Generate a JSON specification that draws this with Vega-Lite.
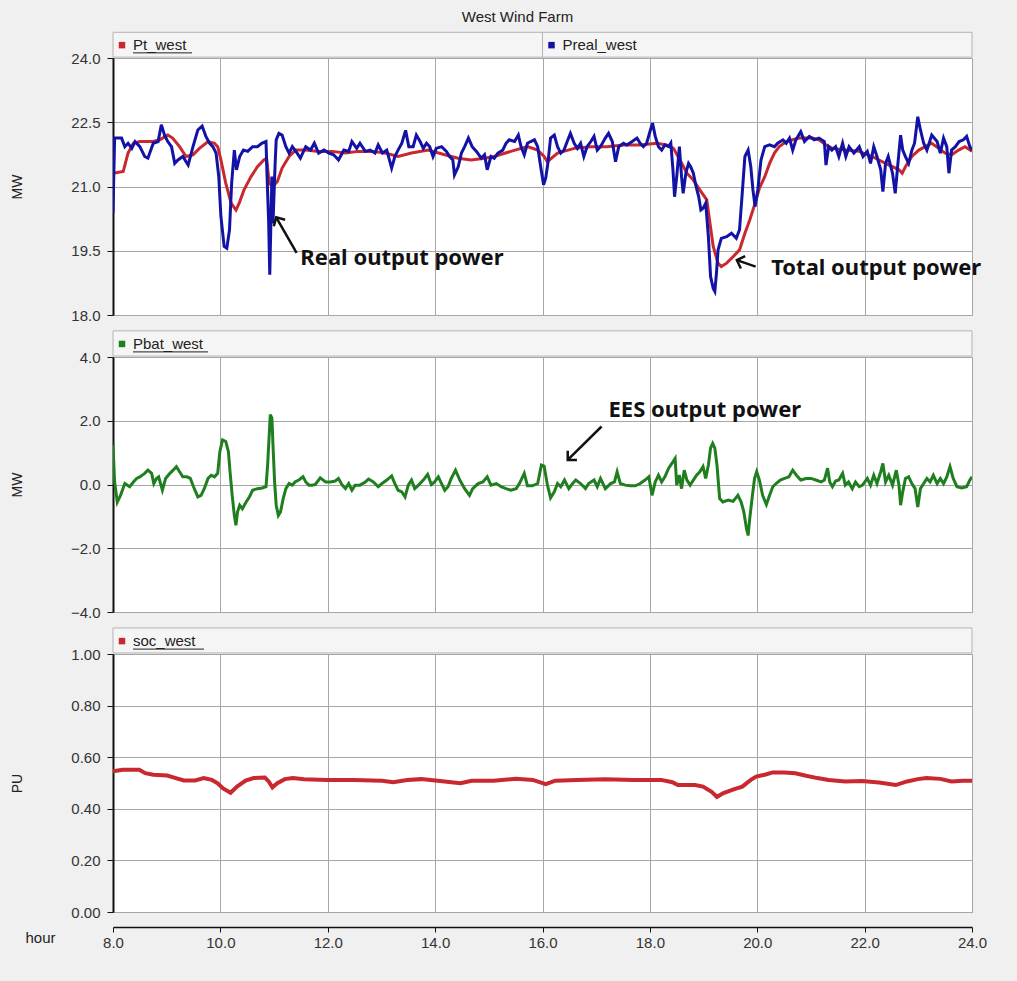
{
  "$schema": "https://vega.github.io/schema/vega-lite/v6.json",
  "background": "#f0f0f0",
  "padding": {"left": 9, "top": 10, "right": 45, "bottom": 31},
  "title": {"text": "West Wind Farm", "font": "Liberation Sans", "fontSize": 15, "fontWeight": "normal", "color": "#222222", "anchor": "middle", "offset": 6, "dx": -25, "frame": "group"},
  "config": {
    "font": "Liberation Sans",
    "view": {"fill": "white", "stroke": "#a6a6a6", "strokeWidth": 1},
    "axis": {
      "gridColor": "#a6a6a6", "gridOpacity": 1, "gridWidth": 1,
      "labelFont": "Liberation Sans", "labelFontSize": 15, "labelColor": "#333333",
      "titleFont": "Liberation Sans", "titleFontSize": 14, "titleFontWeight": "normal", "titleColor": "#222222",
      "domainColor": "#111111", "tickColor": "#111111", "labelOverlap": false
    }
  },
  "datasets": {
    "legend_power": [{"series": "Pt_west", "start": 8, "end": 16}, {"series": "Preal_west", "start": 16, "end": 24}],
    "legend_ees": [{"series": "Pbat_west", "start": 8, "end": 24}],
    "legend_soc": [{"series": "soc_west", "start": 8, "end": 24}],
    "notes_power": [
      {"note": "Real output power", "text_hour": 11.49, "text_mw": 19.33, "tail_hour": 11.42, "tail_mw": 19.45, "head_hour": 11.04, "head_mw": 20.28},
      {"note": "Total output power", "text_hour": 20.26, "text_mw": 19.1, "tail_hour": 19.97, "tail_mw": 19.13, "head_hour": 19.62, "head_mw": 19.28}
    ],
    "notes_ees": [
      {"note": "EES output power", "text_hour": 17.23, "text_mw": 2.33, "tail_hour": 17.1, "tail_mw": 1.82, "head_hour": 16.47, "head_mw": 0.77}
    ],
    "pt_west": [
      {"hour": 8.0, "mw": 21.31}, {"hour": 8.19, "mw": 21.35}, {"hour": 8.28, "mw": 21.78}, {"hour": 8.38, "mw": 22.01}, {"hour": 8.5, "mw": 22.05}, {"hour": 8.75, "mw": 22.05}, {"hour": 8.87, "mw": 22.09}, {"hour": 9.02, "mw": 22.2}, {"hour": 9.11, "mw": 22.13}, {"hour": 9.24, "mw": 21.93}, {"hour": 9.36, "mw": 21.7}, {"hour": 9.49, "mw": 21.74}, {"hour": 9.61, "mw": 21.89}, {"hour": 9.77, "mw": 22.05}, {"hour": 9.89, "mw": 22.01}, {"hour": 9.95, "mw": 21.93}, {"hour": 10.01, "mw": 21.62}, {"hour": 10.1, "mw": 21.08}, {"hour": 10.2, "mw": 20.61}, {"hour": 10.29, "mw": 20.45}, {"hour": 10.35, "mw": 20.61}, {"hour": 10.44, "mw": 20.92}, {"hour": 10.57, "mw": 21.23}, {"hour": 10.69, "mw": 21.46}, {"hour": 10.81, "mw": 21.62}, {"hour": 10.86, "mw": 21.66}, {"hour": 10.91, "mw": 21.08}, {"hour": 10.97, "mw": 21.0}, {"hour": 11.06, "mw": 21.11}, {"hour": 11.15, "mw": 21.43}, {"hour": 11.28, "mw": 21.7}, {"hour": 11.4, "mw": 21.85}, {"hour": 11.59, "mw": 21.85}, {"hour": 11.83, "mw": 21.82}, {"hour": 12.08, "mw": 21.82}, {"hour": 12.33, "mw": 21.78}, {"hour": 12.57, "mw": 21.82}, {"hour": 12.82, "mw": 21.82}, {"hour": 13.07, "mw": 21.78}, {"hour": 13.31, "mw": 21.7}, {"hour": 13.56, "mw": 21.78}, {"hour": 13.87, "mw": 21.85}, {"hour": 14.18, "mw": 21.74}, {"hour": 14.43, "mw": 21.66}, {"hour": 14.67, "mw": 21.62}, {"hour": 14.92, "mw": 21.66}, {"hour": 15.1, "mw": 21.7}, {"hour": 15.41, "mw": 21.82}, {"hour": 15.72, "mw": 21.93}, {"hour": 15.91, "mw": 21.85}, {"hour": 16.03, "mw": 21.7}, {"hour": 16.09, "mw": 21.58}, {"hour": 16.28, "mw": 21.78}, {"hour": 16.59, "mw": 21.89}, {"hour": 16.9, "mw": 21.93}, {"hour": 17.2, "mw": 21.93}, {"hour": 17.51, "mw": 21.97}, {"hour": 17.82, "mw": 21.97}, {"hour": 18.13, "mw": 22.01}, {"hour": 18.31, "mw": 21.97}, {"hour": 18.44, "mw": 21.89}, {"hour": 18.56, "mw": 21.62}, {"hour": 18.69, "mw": 21.31}, {"hour": 18.81, "mw": 21.15}, {"hour": 18.93, "mw": 20.92}, {"hour": 19.06, "mw": 20.69}, {"hour": 19.12, "mw": 20.14}, {"hour": 19.18, "mw": 19.6}, {"hour": 19.27, "mw": 19.21}, {"hour": 19.33, "mw": 19.13}, {"hour": 19.43, "mw": 19.21}, {"hour": 19.55, "mw": 19.36}, {"hour": 19.67, "mw": 19.52}, {"hour": 19.77, "mw": 19.91}, {"hour": 19.86, "mw": 20.22}, {"hour": 19.95, "mw": 20.57}, {"hour": 20.04, "mw": 20.96}, {"hour": 20.14, "mw": 21.23}, {"hour": 20.23, "mw": 21.54}, {"hour": 20.32, "mw": 21.78}, {"hour": 20.41, "mw": 21.93}, {"hour": 20.54, "mw": 22.05}, {"hour": 20.66, "mw": 22.09}, {"hour": 20.78, "mw": 22.13}, {"hour": 21.03, "mw": 22.13}, {"hour": 21.15, "mw": 22.09}, {"hour": 21.28, "mw": 21.97}, {"hour": 21.4, "mw": 21.89}, {"hour": 21.65, "mw": 21.85}, {"hour": 21.9, "mw": 21.82}, {"hour": 22.14, "mw": 21.7}, {"hour": 22.39, "mw": 21.54}, {"hour": 22.64, "mw": 21.39}, {"hour": 22.7, "mw": 21.31}, {"hour": 22.76, "mw": 21.46}, {"hour": 22.88, "mw": 21.7}, {"hour": 23.01, "mw": 21.85}, {"hour": 23.13, "mw": 21.93}, {"hour": 23.25, "mw": 22.01}, {"hour": 23.38, "mw": 21.89}, {"hour": 23.5, "mw": 21.78}, {"hour": 23.62, "mw": 21.74}, {"hour": 23.75, "mw": 21.85}, {"hour": 23.87, "mw": 21.93}, {"hour": 24.0, "mw": 21.82}
    ],
    "preal_west": [
      {"hour": 8.0, "mw": 20.38}, {"hour": 8.03, "mw": 22.13}, {"hour": 8.16, "mw": 22.13}, {"hour": 8.22, "mw": 21.93}, {"hour": 8.28, "mw": 22.01}, {"hour": 8.35, "mw": 21.89}, {"hour": 8.41, "mw": 22.05}, {"hour": 8.5, "mw": 21.93}, {"hour": 8.59, "mw": 21.7}, {"hour": 8.65, "mw": 21.66}, {"hour": 8.75, "mw": 22.01}, {"hour": 8.84, "mw": 22.05}, {"hour": 8.9, "mw": 22.44}, {"hour": 8.96, "mw": 22.2}, {"hour": 9.02, "mw": 22.05}, {"hour": 9.09, "mw": 21.93}, {"hour": 9.15, "mw": 21.54}, {"hour": 9.21, "mw": 21.62}, {"hour": 9.3, "mw": 21.7}, {"hour": 9.4, "mw": 21.5}, {"hour": 9.49, "mw": 21.93}, {"hour": 9.58, "mw": 22.32}, {"hour": 9.66, "mw": 22.41}, {"hour": 9.73, "mw": 22.17}, {"hour": 9.8, "mw": 22.01}, {"hour": 9.86, "mw": 21.93}, {"hour": 9.92, "mw": 21.78}, {"hour": 9.97, "mw": 21.23}, {"hour": 10.01, "mw": 20.3}, {"hour": 10.07, "mw": 19.6}, {"hour": 10.12, "mw": 19.56}, {"hour": 10.17, "mw": 19.99}, {"hour": 10.21, "mw": 21.08}, {"hour": 10.26, "mw": 21.85}, {"hour": 10.3, "mw": 21.39}, {"hour": 10.36, "mw": 21.7}, {"hour": 10.43, "mw": 21.85}, {"hour": 10.51, "mw": 21.82}, {"hour": 10.6, "mw": 21.93}, {"hour": 10.69, "mw": 21.93}, {"hour": 10.77, "mw": 22.01}, {"hour": 10.85, "mw": 22.05}, {"hour": 10.87, "mw": 21.23}, {"hour": 10.9, "mw": 20.14}, {"hour": 10.92, "mw": 18.94}, {"hour": 10.96, "mw": 21.23}, {"hour": 10.98, "mw": 20.14}, {"hour": 11.02, "mw": 21.54}, {"hour": 11.04, "mw": 22.09}, {"hour": 11.09, "mw": 22.24}, {"hour": 11.15, "mw": 22.2}, {"hour": 11.22, "mw": 21.93}, {"hour": 11.28, "mw": 21.78}, {"hour": 11.34, "mw": 21.93}, {"hour": 11.43, "mw": 21.78}, {"hour": 11.49, "mw": 21.66}, {"hour": 11.59, "mw": 21.93}, {"hour": 11.68, "mw": 21.85}, {"hour": 11.75, "mw": 22.01}, {"hour": 11.83, "mw": 21.78}, {"hour": 11.93, "mw": 21.85}, {"hour": 12.02, "mw": 21.78}, {"hour": 12.11, "mw": 21.74}, {"hour": 12.2, "mw": 21.62}, {"hour": 12.3, "mw": 21.85}, {"hour": 12.39, "mw": 21.82}, {"hour": 12.45, "mw": 22.05}, {"hour": 12.54, "mw": 21.89}, {"hour": 12.6, "mw": 22.01}, {"hour": 12.7, "mw": 21.82}, {"hour": 12.79, "mw": 21.85}, {"hour": 12.88, "mw": 21.78}, {"hour": 12.94, "mw": 21.97}, {"hour": 13.02, "mw": 21.78}, {"hour": 13.1, "mw": 21.85}, {"hour": 13.19, "mw": 21.43}, {"hour": 13.25, "mw": 21.7}, {"hour": 13.31, "mw": 21.85}, {"hour": 13.38, "mw": 22.01}, {"hour": 13.45, "mw": 22.31}, {"hour": 13.51, "mw": 21.93}, {"hour": 13.59, "mw": 21.93}, {"hour": 13.65, "mw": 22.2}, {"hour": 13.72, "mw": 22.05}, {"hour": 13.78, "mw": 21.89}, {"hour": 13.84, "mw": 22.01}, {"hour": 13.9, "mw": 21.93}, {"hour": 13.96, "mw": 21.7}, {"hour": 14.02, "mw": 21.89}, {"hour": 14.12, "mw": 21.93}, {"hour": 14.21, "mw": 21.82}, {"hour": 14.27, "mw": 21.7}, {"hour": 14.33, "mw": 21.62}, {"hour": 14.36, "mw": 21.27}, {"hour": 14.43, "mw": 21.46}, {"hour": 14.49, "mw": 21.78}, {"hour": 14.55, "mw": 21.93}, {"hour": 14.62, "mw": 22.13}, {"hour": 14.69, "mw": 21.93}, {"hour": 14.77, "mw": 21.82}, {"hour": 14.86, "mw": 21.66}, {"hour": 14.92, "mw": 21.74}, {"hour": 14.97, "mw": 21.39}, {"hour": 15.04, "mw": 21.7}, {"hour": 15.1, "mw": 21.66}, {"hour": 15.17, "mw": 21.78}, {"hour": 15.26, "mw": 21.85}, {"hour": 15.32, "mw": 22.01}, {"hour": 15.38, "mw": 22.09}, {"hour": 15.48, "mw": 22.05}, {"hour": 15.55, "mw": 22.2}, {"hour": 15.6, "mw": 21.93}, {"hour": 15.66, "mw": 21.74}, {"hour": 15.72, "mw": 22.01}, {"hour": 15.78, "mw": 22.05}, {"hour": 15.85, "mw": 22.09}, {"hour": 15.91, "mw": 21.93}, {"hour": 15.97, "mw": 21.43}, {"hour": 16.02, "mw": 21.04}, {"hour": 16.06, "mw": 21.2}, {"hour": 16.1, "mw": 21.54}, {"hour": 16.15, "mw": 22.13},
      {"hour": 16.22, "mw": 22.2}, {"hour": 16.28, "mw": 21.93}, {"hour": 16.34, "mw": 21.78}, {"hour": 16.4, "mw": 21.85}, {"hour": 16.46, "mw": 22.05}, {"hour": 16.52, "mw": 22.24}, {"hour": 16.59, "mw": 22.01}, {"hour": 16.65, "mw": 21.89}, {"hour": 16.71, "mw": 22.01}, {"hour": 16.77, "mw": 21.7}, {"hour": 16.83, "mw": 21.93}, {"hour": 16.9, "mw": 22.05}, {"hour": 16.96, "mw": 22.17}, {"hour": 17.02, "mw": 21.85}, {"hour": 17.08, "mw": 21.93}, {"hour": 17.17, "mw": 22.13}, {"hour": 17.23, "mw": 22.24}, {"hour": 17.3, "mw": 22.05}, {"hour": 17.36, "mw": 21.58}, {"hour": 17.42, "mw": 21.93}, {"hour": 17.51, "mw": 22.01}, {"hour": 17.57, "mw": 21.97}, {"hour": 17.67, "mw": 22.05}, {"hour": 17.76, "mw": 22.13}, {"hour": 17.82, "mw": 22.01}, {"hour": 17.88, "mw": 21.93}, {"hour": 17.94, "mw": 22.01}, {"hour": 18.01, "mw": 22.32}, {"hour": 18.05, "mw": 22.48}, {"hour": 18.1, "mw": 22.17}, {"hour": 18.16, "mw": 21.93}, {"hour": 18.22, "mw": 21.85}, {"hour": 18.28, "mw": 21.97}, {"hour": 18.35, "mw": 21.93}, {"hour": 18.39, "mw": 22.01}, {"hour": 18.43, "mw": 21.39}, {"hour": 18.46, "mw": 20.76}, {"hour": 18.5, "mw": 21.23}, {"hour": 18.55, "mw": 21.93}, {"hour": 18.59, "mw": 21.23}, {"hour": 18.62, "mw": 20.84}, {"hour": 18.67, "mw": 21.31}, {"hour": 18.72, "mw": 21.54}, {"hour": 18.76, "mw": 21.46}, {"hour": 18.81, "mw": 21.31}, {"hour": 18.86, "mw": 21.0}, {"hour": 18.91, "mw": 20.76}, {"hour": 18.95, "mw": 20.45}, {"hour": 18.99, "mw": 20.49}, {"hour": 19.04, "mw": 20.61}, {"hour": 19.09, "mw": 19.83}, {"hour": 19.13, "mw": 18.9}, {"hour": 19.18, "mw": 18.62}, {"hour": 19.21, "mw": 18.55}, {"hour": 19.24, "mw": 18.97}, {"hour": 19.27, "mw": 19.52}, {"hour": 19.33, "mw": 19.79}, {"hour": 19.43, "mw": 19.83}, {"hour": 19.52, "mw": 19.91}, {"hour": 19.61, "mw": 19.79}, {"hour": 19.67, "mw": 19.99}, {"hour": 19.72, "mw": 20.84}, {"hour": 19.77, "mw": 21.7}, {"hour": 19.83, "mw": 21.85}, {"hour": 19.88, "mw": 21.46}, {"hour": 19.92, "mw": 20.92}, {"hour": 19.96, "mw": 20.53}, {"hour": 20.01, "mw": 20.92}, {"hour": 20.07, "mw": 21.62}, {"hour": 20.14, "mw": 21.93}, {"hour": 20.23, "mw": 21.97}, {"hour": 20.32, "mw": 21.93}, {"hour": 20.38, "mw": 22.01}, {"hour": 20.48, "mw": 22.09}, {"hour": 20.54, "mw": 22.01}, {"hour": 20.6, "mw": 22.13}, {"hour": 20.66, "mw": 21.85}, {"hour": 20.72, "mw": 22.09}, {"hour": 20.81, "mw": 22.28}, {"hour": 20.88, "mw": 22.05}, {"hour": 20.97, "mw": 22.17}, {"hour": 21.06, "mw": 22.09}, {"hour": 21.15, "mw": 22.13}, {"hour": 21.25, "mw": 22.05}, {"hour": 21.28, "mw": 21.5}, {"hour": 21.33, "mw": 21.93}, {"hour": 21.39, "mw": 21.85}, {"hour": 21.46, "mw": 21.93}, {"hour": 21.52, "mw": 21.7}, {"hour": 21.59, "mw": 22.01}, {"hour": 21.65, "mw": 21.7}, {"hour": 21.71, "mw": 21.93}, {"hour": 21.8, "mw": 21.78}, {"hour": 21.9, "mw": 21.93}, {"hour": 21.97, "mw": 21.7}, {"hour": 22.05, "mw": 21.82}, {"hour": 22.11, "mw": 21.54}, {"hour": 22.17, "mw": 21.93}, {"hour": 22.23, "mw": 21.7}, {"hour": 22.3, "mw": 21.39}, {"hour": 22.34, "mw": 20.88}, {"hour": 22.39, "mw": 21.54}, {"hour": 22.44, "mw": 21.7}, {"hour": 22.48, "mw": 21.5}, {"hour": 22.52, "mw": 21.31}, {"hour": 22.57, "mw": 20.84}, {"hour": 22.62, "mw": 21.54}, {"hour": 22.67, "mw": 22.2}, {"hour": 22.71, "mw": 21.85}, {"hour": 22.76, "mw": 21.7}, {"hour": 22.82, "mw": 21.54}, {"hour": 22.88, "mw": 21.85}, {"hour": 22.93, "mw": 22.01}, {"hour": 22.99, "mw": 22.63}, {"hour": 23.04, "mw": 22.32}, {"hour": 23.1, "mw": 22.01}, {"hour": 23.16, "mw": 21.85}, {"hour": 23.25, "mw": 22.2}, {"hour": 23.35, "mw": 22.05}, {"hour": 23.41, "mw": 21.78}, {"hour": 23.47, "mw": 22.13}, {"hour": 23.53, "mw": 21.93}, {"hour": 23.57, "mw": 21.31}, {"hour": 23.62, "mw": 21.85}, {"hour": 23.69, "mw": 21.93}, {"hour": 23.76, "mw": 22.05}, {"hour": 23.84, "mw": 22.09}, {"hour": 23.9, "mw": 22.17}, {"hour": 23.96, "mw": 21.93}, {"hour": 24.0, "mw": 21.85}
    ],
    "pbat_west": [
      {"hour": 8.0, "mw": 1.24}, {"hour": 8.03, "mw": 0.08}, {"hour": 8.08, "mw": -0.55}, {"hour": 8.14, "mw": -0.34}, {"hour": 8.22, "mw": 0.03}, {"hour": 8.31, "mw": -0.07}, {"hour": 8.38, "mw": 0.08}, {"hour": 8.44, "mw": 0.19}, {"hour": 8.5, "mw": 0.24}, {"hour": 8.59, "mw": 0.35}, {"hour": 8.65, "mw": 0.45}, {"hour": 8.72, "mw": 0.35}, {"hour": 8.76, "mw": 0.03}, {"hour": 8.81, "mw": 0.19}, {"hour": 8.85, "mw": 0.24}, {"hour": 8.92, "mw": -0.18}, {"hour": 8.98, "mw": 0.19}, {"hour": 9.06, "mw": 0.35}, {"hour": 9.12, "mw": 0.45}, {"hour": 9.18, "mw": 0.56}, {"hour": 9.24, "mw": 0.4}, {"hour": 9.3, "mw": 0.24}, {"hour": 9.38, "mw": 0.24}, {"hour": 9.44, "mw": 0.19}, {"hour": 9.5, "mw": -0.07}, {"hour": 9.58, "mw": -0.39}, {"hour": 9.64, "mw": -0.34}, {"hour": 9.7, "mw": -0.13}, {"hour": 9.77, "mw": 0.19}, {"hour": 9.83, "mw": 0.29}, {"hour": 9.89, "mw": 0.24}, {"hour": 9.95, "mw": 0.35}, {"hour": 9.99, "mw": 1.03}, {"hour": 10.04, "mw": 1.4}, {"hour": 10.1, "mw": 1.35}, {"hour": 10.15, "mw": 1.03}, {"hour": 10.18, "mw": 0.4}, {"hour": 10.22, "mw": -0.34}, {"hour": 10.26, "mw": -0.97}, {"hour": 10.29, "mw": -1.28}, {"hour": 10.32, "mw": -0.86}, {"hour": 10.36, "mw": -0.65}, {"hour": 10.41, "mw": -0.76}, {"hour": 10.48, "mw": -0.55}, {"hour": 10.54, "mw": -0.39}, {"hour": 10.6, "mw": -0.18}, {"hour": 10.69, "mw": -0.13}, {"hour": 10.78, "mw": -0.11}, {"hour": 10.85, "mw": -0.07}, {"hour": 10.88, "mw": 0.61}, {"hour": 10.91, "mw": 1.56}, {"hour": 10.93, "mw": 2.19}, {"hour": 10.96, "mw": 2.08}, {"hour": 10.98, "mw": 1.24}, {"hour": 11.01, "mw": 0.08}, {"hour": 11.04, "mw": -0.65}, {"hour": 11.08, "mw": -0.97}, {"hour": 11.12, "mw": -0.86}, {"hour": 11.17, "mw": -0.44}, {"hour": 11.22, "mw": -0.13}, {"hour": 11.28, "mw": 0.03}, {"hour": 11.34, "mw": -0.02}, {"hour": 11.39, "mw": 0.08}, {"hour": 11.46, "mw": 0.14}, {"hour": 11.54, "mw": 0.24}, {"hour": 11.59, "mw": 0.08}, {"hour": 11.65, "mw": -0.02}, {"hour": 11.71, "mw": -0.02}, {"hour": 11.77, "mw": 0.0}, {"hour": 11.86, "mw": 0.21}, {"hour": 11.96, "mw": 0.08}, {"hour": 12.05, "mw": 0.08}, {"hour": 12.14, "mw": 0.11}, {"hour": 12.2, "mw": 0.19}, {"hour": 12.27, "mw": -0.02}, {"hour": 12.33, "mw": -0.13}, {"hour": 12.39, "mw": 0.03}, {"hour": 12.45, "mw": -0.18}, {"hour": 12.51, "mw": -0.02}, {"hour": 12.6, "mw": -0.02}, {"hour": 12.7, "mw": 0.08}, {"hour": 12.76, "mw": 0.17}, {"hour": 12.85, "mw": 0.08}, {"hour": 12.94, "mw": -0.07}, {"hour": 13.01, "mw": 0.03}, {"hour": 13.1, "mw": 0.14}, {"hour": 13.19, "mw": 0.27}, {"hour": 13.25, "mw": 0.03}, {"hour": 13.31, "mw": -0.18}, {"hour": 13.38, "mw": -0.23}, {"hour": 13.44, "mw": -0.39}, {"hour": 13.5, "mw": -0.02}, {"hour": 13.56, "mw": 0.14}, {"hour": 13.62, "mw": -0.13}, {"hour": 13.69, "mw": -0.02}, {"hour": 13.78, "mw": 0.14}, {"hour": 13.86, "mw": 0.32}, {"hour": 13.93, "mw": 0.0}, {"hour": 13.99, "mw": 0.08}, {"hour": 14.06, "mw": 0.24}, {"hour": 14.12, "mw": 0.03}, {"hour": 14.18, "mw": -0.18}, {"hour": 14.24, "mw": -0.07}, {"hour": 14.3, "mw": 0.19}, {"hour": 14.38, "mw": 0.45}, {"hour": 14.46, "mw": 0.14}, {"hour": 14.55, "mw": -0.13}, {"hour": 14.64, "mw": -0.34}, {"hour": 14.7, "mw": -0.13}, {"hour": 14.8, "mw": 0.03}, {"hour": 14.89, "mw": 0.08}, {"hour": 14.97, "mw": 0.24}, {"hour": 15.04, "mw": -0.02}, {"hour": 15.14, "mw": 0.03}, {"hour": 15.23, "mw": -0.07}, {"hour": 15.32, "mw": -0.13}, {"hour": 15.41, "mw": -0.18}, {"hour": 15.51, "mw": -0.13}, {"hour": 15.57, "mw": 0.03}, {"hour": 15.66, "mw": 0.35}, {"hour": 15.72, "mw": -0.04}, {"hour": 15.81, "mw": -0.04}, {"hour": 15.91, "mw": 0.03}, {"hour": 15.98, "mw": 0.61}, {"hour": 16.03, "mw": 0.58}, {"hour": 16.09, "mw": 0.0}, {"hour": 16.15, "mw": -0.42},
      {"hour": 16.22, "mw": -0.23}, {"hour": 16.28, "mw": 0.03}, {"hour": 16.34, "mw": -0.07}, {"hour": 16.41, "mw": 0.14}, {"hour": 16.49, "mw": -0.13}, {"hour": 16.56, "mw": 0.03}, {"hour": 16.62, "mw": 0.14}, {"hour": 16.71, "mw": 0.03}, {"hour": 16.8, "mw": -0.13}, {"hour": 16.86, "mw": 0.03}, {"hour": 16.96, "mw": 0.14}, {"hour": 17.02, "mw": -0.07}, {"hour": 17.08, "mw": 0.19}, {"hour": 17.17, "mw": -0.13}, {"hour": 17.27, "mw": 0.03}, {"hour": 17.34, "mw": 0.08}, {"hour": 17.39, "mw": 0.4}, {"hour": 17.45, "mw": 0.03}, {"hour": 17.54, "mw": -0.02}, {"hour": 17.64, "mw": -0.04}, {"hour": 17.73, "mw": -0.04}, {"hour": 17.82, "mw": 0.03}, {"hour": 17.91, "mw": 0.14}, {"hour": 17.98, "mw": 0.24}, {"hour": 18.04, "mw": -0.34}, {"hour": 18.1, "mw": 0.08}, {"hour": 18.16, "mw": 0.29}, {"hour": 18.22, "mw": 0.08}, {"hour": 18.28, "mw": 0.24}, {"hour": 18.35, "mw": 0.51}, {"hour": 18.41, "mw": 0.66}, {"hour": 18.47, "mw": 0.82}, {"hour": 18.5, "mw": -0.02}, {"hour": 18.55, "mw": 0.29}, {"hour": 18.59, "mw": -0.13}, {"hour": 18.64, "mw": 0.45}, {"hour": 18.69, "mw": 0.14}, {"hour": 18.75, "mw": -0.02}, {"hour": 18.81, "mw": 0.14}, {"hour": 18.87, "mw": 0.29}, {"hour": 18.93, "mw": 0.4}, {"hour": 18.99, "mw": 0.56}, {"hour": 19.04, "mw": 0.19}, {"hour": 19.09, "mw": 0.61}, {"hour": 19.13, "mw": 1.14}, {"hour": 19.17, "mw": 1.29}, {"hour": 19.21, "mw": 1.14}, {"hour": 19.25, "mw": 0.61}, {"hour": 19.3, "mw": -0.44}, {"hour": 19.36, "mw": -0.55}, {"hour": 19.46, "mw": -0.49}, {"hour": 19.55, "mw": -0.53}, {"hour": 19.64, "mw": -0.34}, {"hour": 19.7, "mw": -0.55}, {"hour": 19.75, "mw": -0.86}, {"hour": 19.8, "mw": -1.39}, {"hour": 19.83, "mw": -1.6}, {"hour": 19.86, "mw": -1.07}, {"hour": 19.91, "mw": -0.34}, {"hour": 19.95, "mw": 0.19}, {"hour": 19.99, "mw": 0.4}, {"hour": 20.04, "mw": 0.14}, {"hour": 20.1, "mw": -0.34}, {"hour": 20.17, "mw": -0.63}, {"hour": 20.23, "mw": -0.34}, {"hour": 20.29, "mw": -0.07}, {"hour": 20.35, "mw": 0.03}, {"hour": 20.43, "mw": 0.14}, {"hour": 20.51, "mw": 0.19}, {"hour": 20.59, "mw": 0.24}, {"hour": 20.66, "mw": 0.45}, {"hour": 20.73, "mw": 0.29}, {"hour": 20.81, "mw": 0.14}, {"hour": 20.91, "mw": 0.19}, {"hour": 21.0, "mw": 0.19}, {"hour": 21.09, "mw": 0.14}, {"hour": 21.19, "mw": 0.08}, {"hour": 21.25, "mw": 0.14}, {"hour": 21.31, "mw": 0.51}, {"hour": 21.35, "mw": 0.08}, {"hour": 21.4, "mw": -0.07}, {"hour": 21.46, "mw": 0.11}, {"hour": 21.52, "mw": 0.14}, {"hour": 21.59, "mw": 0.35}, {"hour": 21.64, "mw": -0.02}, {"hour": 21.7, "mw": 0.08}, {"hour": 21.77, "mw": -0.13}, {"hour": 21.83, "mw": 0.08}, {"hour": 21.9, "mw": -0.07}, {"hour": 21.96, "mw": -0.02}, {"hour": 22.05, "mw": 0.19}, {"hour": 22.11, "mw": -0.02}, {"hour": 22.17, "mw": 0.29}, {"hour": 22.23, "mw": 0.03}, {"hour": 22.3, "mw": 0.4}, {"hour": 22.34, "mw": 0.66}, {"hour": 22.39, "mw": 0.08}, {"hour": 22.45, "mw": 0.29}, {"hour": 22.52, "mw": -0.02}, {"hour": 22.59, "mw": 0.45}, {"hour": 22.64, "mw": -0.02}, {"hour": 22.67, "mw": -0.65}, {"hour": 22.71, "mw": -0.23}, {"hour": 22.76, "mw": 0.19}, {"hour": 22.82, "mw": 0.24}, {"hour": 22.88, "mw": 0.03}, {"hour": 22.94, "mw": -0.13}, {"hour": 22.99, "mw": -0.71}, {"hour": 23.04, "mw": -0.13}, {"hour": 23.1, "mw": 0.03}, {"hour": 23.16, "mw": 0.19}, {"hour": 23.22, "mw": 0.08}, {"hour": 23.28, "mw": 0.29}, {"hour": 23.35, "mw": 0.03}, {"hour": 23.41, "mw": 0.19}, {"hour": 23.47, "mw": 0.03}, {"hour": 23.53, "mw": 0.24}, {"hour": 23.59, "mw": 0.56}, {"hour": 23.65, "mw": 0.19}, {"hour": 23.72, "mw": -0.07}, {"hour": 23.81, "mw": -0.11}, {"hour": 23.9, "mw": -0.07}, {"hour": 23.96, "mw": 0.14}, {"hour": 24.0, "mw": 0.24}
    ],
    "soc_west": [
      {"hour": 8.0, "pu": 0.545}, {"hour": 8.18, "pu": 0.551}, {"hour": 8.49, "pu": 0.551}, {"hour": 8.6, "pu": 0.538}, {"hour": 8.75, "pu": 0.532}, {"hour": 9.01, "pu": 0.529}, {"hour": 9.17, "pu": 0.519}, {"hour": 9.32, "pu": 0.51}, {"hour": 9.53, "pu": 0.51}, {"hour": 9.69, "pu": 0.519}, {"hour": 9.84, "pu": 0.512}, {"hour": 9.95, "pu": 0.499}, {"hour": 10.05, "pu": 0.479}, {"hour": 10.19, "pu": 0.462}, {"hour": 10.31, "pu": 0.486}, {"hour": 10.47, "pu": 0.509}, {"hour": 10.62, "pu": 0.519}, {"hour": 10.83, "pu": 0.521}, {"hour": 10.9, "pu": 0.506}, {"hour": 10.97, "pu": 0.483}, {"hour": 11.06, "pu": 0.499}, {"hour": 11.2, "pu": 0.515}, {"hour": 11.35, "pu": 0.519}, {"hour": 11.56, "pu": 0.515}, {"hour": 11.98, "pu": 0.512}, {"hour": 12.49, "pu": 0.512}, {"hour": 13.01, "pu": 0.509}, {"hour": 13.22, "pu": 0.503}, {"hour": 13.48, "pu": 0.512}, {"hour": 13.74, "pu": 0.515}, {"hour": 14.05, "pu": 0.509}, {"hour": 14.47, "pu": 0.499}, {"hour": 14.68, "pu": 0.509}, {"hour": 15.09, "pu": 0.509}, {"hour": 15.51, "pu": 0.516}, {"hour": 15.82, "pu": 0.512}, {"hour": 16.06, "pu": 0.496}, {"hour": 16.24, "pu": 0.509}, {"hour": 16.65, "pu": 0.512}, {"hour": 17.17, "pu": 0.515}, {"hour": 17.69, "pu": 0.512}, {"hour": 18.21, "pu": 0.512}, {"hour": 18.42, "pu": 0.503}, {"hour": 18.52, "pu": 0.492}, {"hour": 18.84, "pu": 0.492}, {"hour": 18.99, "pu": 0.486}, {"hour": 19.15, "pu": 0.466}, {"hour": 19.25, "pu": 0.446}, {"hour": 19.36, "pu": 0.46}, {"hour": 19.56, "pu": 0.475}, {"hour": 19.72, "pu": 0.486}, {"hour": 19.88, "pu": 0.512}, {"hour": 19.98, "pu": 0.525}, {"hour": 20.14, "pu": 0.532}, {"hour": 20.29, "pu": 0.541}, {"hour": 20.5, "pu": 0.541}, {"hour": 20.71, "pu": 0.538}, {"hour": 20.91, "pu": 0.528}, {"hour": 21.12, "pu": 0.519}, {"hour": 21.33, "pu": 0.512}, {"hour": 21.64, "pu": 0.506}, {"hour": 21.95, "pu": 0.508}, {"hour": 22.27, "pu": 0.502}, {"hour": 22.58, "pu": 0.492}, {"hour": 22.79, "pu": 0.506}, {"hour": 22.99, "pu": 0.515}, {"hour": 23.15, "pu": 0.519}, {"hour": 23.41, "pu": 0.516}, {"hour": 23.62, "pu": 0.506}, {"hour": 23.83, "pu": 0.509}, {"hour": 24.0, "pu": 0.509}
    ]
  },
  "bounds": "flush",
  "spacing": 42,
  "vconcat": [
    {
      "width": 859, "height": 257,
      "layer": [
        {"data": {"name": "pt_west"},
         "mark": {"type": "line", "strokeWidth": 3, "clip": true},
         "encoding": {
           "x": {"field": "hour", "type": "quantitative", "scale": {"domain": [8, 24], "nice": false, "zero": false},
                 "axis": {"values": [8, 10, 12, 14, 16, 18, 20, 22, 24], "labels": false, "ticks": false, "domain": false, "title": null, "grid": true}},
           "y": {"field": "mw", "type": "quantitative", "scale": {"domain": [18, 24], "nice": false, "zero": false},
                 "axis": {"values": [18, 19.5, 21, 22.5, 24], "format": ".1f", "title": "MW", "titleX": -96, "titleY": 128.5, "titleAngle": -90, "titleAlign": "center", "titleBaseline": "middle", "tickSize": 6, "labelPadding": 7, "domainWidth": 2, "grid": true}},
           "color": {"datum": "Pt_west", "scale": {"domain": ["Pt_west", "Preal_west", "Pbat_west", "soc_west"], "range": ["#c8282e", "#1212a6", "#1f7f1f", "#c8282e"]}, "legend": null}
         }},
        {"data": {"name": "preal_west"},
         "mark": {"type": "line", "strokeWidth": 3, "clip": true},
         "encoding": {"x": {"field": "hour", "type": "quantitative"}, "y": {"field": "mw", "type": "quantitative"}, "color": {"datum": "Preal_west"}}},
        {"data": {"name": "legend_power"},
         "mark": {"type": "rect", "fill": "#f5f5f5", "stroke": "#b4b4b4", "strokeWidth": 1},
         "encoding": {"x": {"field": "start", "type": "quantitative"}, "x2": {"field": "end"}, "y": {"datum": 24.02}, "y2": {"datum": 24.6}}},
        {"data": {"name": "legend_power"},
         "mark": {"type": "point", "shape": "square", "filled": true, "size": 42, "opacity": 1, "xOffset": 9},
         "encoding": {"x": {"field": "start", "type": "quantitative"}, "y": {"datum": 24.3}, "color": {"field": "series", "type": "nominal"}}},
        {"data": {"name": "legend_power"},
         "mark": {"type": "text", "align": "left", "baseline": "middle", "dx": 20, "font": "Liberation Sans", "fontSize": 15, "color": "#222222"},
         "encoding": {"x": {"field": "start", "type": "quantitative"}, "y": {"datum": 24.3}, "text": {"field": "series"}}},
        {"data": {"name": "legend_power"},
         "transform": [{"filter": "datum.series === 'Pt_west'"}],
         "mark": {"type": "rule", "xOffset": 20, "x2Offset": 79, "color": "#222222", "strokeWidth": 1},
         "encoding": {"x": {"field": "start", "type": "quantitative"}, "x2": {"field": "start"}, "y": {"datum": 24.12}}},
        {"data": {"name": "notes_power"},
         "mark": {"type": "rule", "color": "#111111", "strokeWidth": 2.5},
         "encoding": {"x": {"field": "tail_hour", "type": "quantitative"}, "y": {"field": "tail_mw", "type": "quantitative"}, "x2": {"field": "head_hour"}, "y2": {"field": "head_mw"}}},
        {"data": {"name": "notes_power"},
         "transform": [{"filter": "datum.note === 'Real output power'"}],
         "mark": {"type": "point", "shape": "M-1,-1L0,0L-1,1", "filled": false, "size": 170, "angle": 240, "stroke": "#111111", "strokeWidth": 2.5, "opacity": 1},
         "encoding": {"x": {"field": "head_hour", "type": "quantitative"}, "y": {"field": "head_mw", "type": "quantitative"}}},
        {"data": {"name": "notes_power"},
         "transform": [{"filter": "datum.note === 'Total output power'"}],
         "mark": {"type": "point", "shape": "M-1,-1L0,0L-1,1", "filled": false, "size": 170, "angle": 199, "stroke": "#111111", "strokeWidth": 2.5, "opacity": 1},
         "encoding": {"x": {"field": "head_hour", "type": "quantitative"}, "y": {"field": "head_mw", "type": "quantitative"}}},
        {"data": {"name": "notes_power"},
         "mark": {"type": "text", "align": "left", "baseline": "middle", "font": "Noto Sans", "fontWeight": "bold", "fontSize": 22, "color": "#111111"},
         "encoding": {"x": {"field": "text_hour", "type": "quantitative"}, "y": {"field": "text_mw", "type": "quantitative"}, "text": {"field": "note"}}}
      ]
    },
    {
      "width": 859, "height": 255,
      "layer": [
        {"data": {"name": "pbat_west"},
         "mark": {"type": "line", "strokeWidth": 3, "clip": true},
         "encoding": {
           "x": {"field": "hour", "type": "quantitative", "scale": {"domain": [8, 24], "nice": false, "zero": false},
                 "axis": {"values": [8, 10, 12, 14, 16, 18, 20, 22, 24], "labels": false, "ticks": false, "domain": false, "title": null, "grid": true}},
           "y": {"field": "mw", "type": "quantitative", "scale": {"domain": [-4, 4], "nice": false, "zero": false},
                 "axis": {"values": [-4, -2, 0, 2, 4], "format": ".1f", "title": "MW", "titleX": -96, "titleY": 127.5, "titleAngle": -90, "titleAlign": "center", "titleBaseline": "middle", "tickSize": 6, "labelPadding": 7, "domainWidth": 2, "grid": true}},
           "color": {"datum": "Pbat_west", "scale": {"domain": ["Pt_west", "Preal_west", "Pbat_west", "soc_west"], "range": ["#c8282e", "#1212a6", "#1f7f1f", "#c8282e"]}, "legend": null}
         }},
        {"data": {"name": "legend_ees"},
         "mark": {"type": "rect", "fill": "#f5f5f5", "stroke": "#b4b4b4", "strokeWidth": 1},
         "encoding": {"x": {"field": "start", "type": "quantitative"}, "x2": {"field": "end"}, "y": {"datum": 4.03}, "y2": {"datum": 4.82}}},
        {"data": {"name": "legend_ees"},
         "mark": {"type": "point", "shape": "square", "filled": true, "size": 42, "opacity": 1, "xOffset": 9},
         "encoding": {"x": {"field": "start", "type": "quantitative"}, "y": {"datum": 4.41}, "color": {"field": "series", "type": "nominal"}}},
        {"data": {"name": "legend_ees"},
         "mark": {"type": "text", "align": "left", "baseline": "middle", "dx": 20, "font": "Liberation Sans", "fontSize": 15, "color": "#222222"},
         "encoding": {"x": {"field": "start", "type": "quantitative"}, "y": {"datum": 4.41}, "text": {"field": "series"}}},
        {"data": {"name": "legend_ees"},
         "mark": {"type": "rule", "xOffset": 20, "x2Offset": 95, "color": "#222222", "strokeWidth": 1},
         "encoding": {"x": {"field": "start", "type": "quantitative"}, "x2": {"field": "start"}, "y": {"datum": 4.16}}},
        {"data": {"name": "notes_ees"},
         "mark": {"type": "rule", "color": "#111111", "strokeWidth": 2.5},
         "encoding": {"x": {"field": "tail_hour", "type": "quantitative"}, "y": {"field": "tail_mw", "type": "quantitative"}, "x2": {"field": "head_hour"}, "y2": {"field": "head_mw"}}},
        {"data": {"name": "notes_ees"},
         "mark": {"type": "point", "shape": "M-1,-1L0,0L-1,1", "filled": false, "size": 170, "angle": 135, "stroke": "#111111", "strokeWidth": 2.5, "opacity": 1},
         "encoding": {"x": {"field": "head_hour", "type": "quantitative"}, "y": {"field": "head_mw", "type": "quantitative"}}},
        {"data": {"name": "notes_ees"},
         "mark": {"type": "text", "align": "left", "baseline": "middle", "font": "Noto Sans", "fontWeight": "bold", "fontSize": 22, "color": "#111111"},
         "encoding": {"x": {"field": "text_hour", "type": "quantitative"}, "y": {"field": "text_mw", "type": "quantitative"}, "text": {"field": "note"}}}
      ]
    },
    {
      "width": 859, "height": 258,
      "layer": [
        {"data": {"name": "soc_west"},
         "mark": {"type": "line", "strokeWidth": 4, "clip": true},
         "encoding": {
           "x": {"field": "hour", "type": "quantitative", "scale": {"domain": [8, 24], "nice": false, "zero": false},
                 "axis": {"values": [8, 10, 12, 14, 16, 18, 20, 22, 24], "format": ".1f", "grid": true, "offset": 15, "domain": true, "domainWidth": 1.5, "ticks": true, "tickSize": 5, "labelPadding": 3, "labelFlush": false,
                          "title": "hour", "titleX": -73, "titleY": 15, "titleAlign": "center", "titleBaseline": "alphabetic", "titleFontSize": 15}},
           "y": {"field": "pu", "type": "quantitative", "scale": {"domain": [0, 1], "nice": false, "zero": false},
                 "axis": {"values": [0, 0.2, 0.4, 0.6, 0.8, 1.0], "format": ".2f", "title": "PU", "titleX": -96, "titleY": 129, "titleAngle": -90, "titleAlign": "center", "titleBaseline": "middle", "tickSize": 6, "labelPadding": 7, "domainWidth": 2, "grid": true}},
           "color": {"datum": "soc_west", "scale": {"domain": ["Pt_west", "Preal_west", "Pbat_west", "soc_west"], "range": ["#c8282e", "#1212a6", "#1f7f1f", "#c8282e"]}, "legend": null}
         }},
        {"data": {"name": "legend_soc"},
         "mark": {"type": "rect", "fill": "#f5f5f5", "stroke": "#b4b4b4", "strokeWidth": 1},
         "encoding": {"x": {"field": "start", "type": "quantitative"}, "x2": {"field": "end"}, "y": {"datum": 1.004}, "y2": {"datum": 1.101}}},
        {"data": {"name": "legend_soc"},
         "mark": {"type": "point", "shape": "square", "filled": true, "size": 42, "opacity": 1, "xOffset": 9},
         "encoding": {"x": {"field": "start", "type": "quantitative"}, "y": {"datum": 1.05}, "color": {"field": "series", "type": "nominal"}}},
        {"data": {"name": "legend_soc"},
         "mark": {"type": "text", "align": "left", "baseline": "middle", "dx": 20, "font": "Liberation Sans", "fontSize": 15, "color": "#222222"},
         "encoding": {"x": {"field": "start", "type": "quantitative"}, "y": {"datum": 1.05}, "text": {"field": "series"}}},
        {"data": {"name": "legend_soc"},
         "mark": {"type": "rule", "xOffset": 20, "x2Offset": 91, "color": "#222222", "strokeWidth": 1},
         "encoding": {"x": {"field": "start", "type": "quantitative"}, "x2": {"field": "start"}, "y": {"datum": 1.019}}}
      ]
    }
  ]
}
